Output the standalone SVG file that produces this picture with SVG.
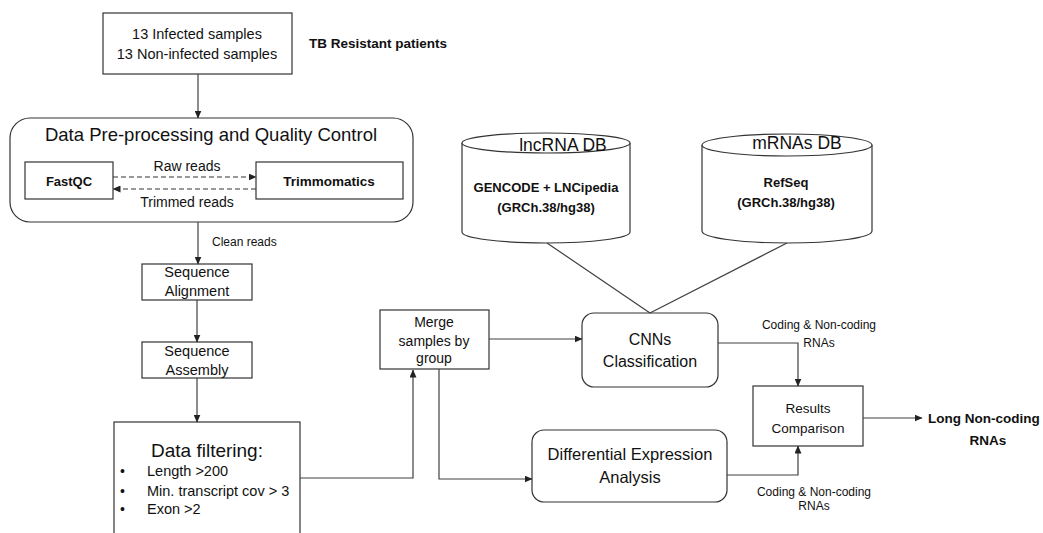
<svg xmlns="http://www.w3.org/2000/svg" width="1043" height="533" viewBox="0 0 1043 533">
<defs>
<marker id="ah" markerUnits="userSpaceOnUse" markerWidth="8" markerHeight="7" refX="7.5" refY="3.5" orient="auto">
<path d="M0,0 L8,3.5 L0,7 z" fill="#222"/>
</marker>
<style>
.box{fill:#fff;stroke:#333;stroke-width:1.2}
.ln{fill:none;stroke:#404040;stroke-width:1.2}
.ar{fill:none;stroke:#404040;stroke-width:1.2;marker-end:url(#ah)}
.da{fill:none;stroke:#333;stroke-width:1.1;stroke-dasharray:5,3;marker-end:url(#ah)}
text{font-family:"Liberation Sans",Arial,sans-serif;fill:#111}
.c{text-anchor:middle}
.b{font-weight:bold}
</style>
</defs>
<rect width="1043" height="533" fill="#fff"/>
<g id="samples">
<rect class="box" x="103" y="13" width="189" height="61"/>
<text class="c" x="197" y="39" font-size="14.5">13 Infected samples</text>
<text class="c" x="197" y="58.5" font-size="14.5">13 Non-infected samples</text>
</g>
<g id="tb-label">
<text class="b" x="309" y="48" font-size="13.5">TB Resistant patients</text>
</g>
<g id="preprocessing">
<rect class="box" x="10" y="118" width="403" height="104" rx="20"/>
<text class="c" x="211" y="141" font-size="18.5">Data Pre-processing and Quality Control</text>
</g>
<g id="fastqc">
<rect class="box" x="25" y="162" width="88" height="37"/>
<text class="c b" x="69" y="185.5" font-size="13">FastQC</text>
</g>
<g id="trimmomatics">
<rect class="box" x="256" y="162" width="147" height="37"/>
<text class="c b" x="329" y="185.5" font-size="13.5">Trimmomatics</text>
</g>
<g id="seq-alignment">
<rect class="box" x="142" y="264" width="110" height="36"/>
<text class="c" x="197" y="277" font-size="14.5">Sequence</text>
<text class="c" x="197" y="296" font-size="14.5">Alignment</text>
</g>
<g id="seq-assembly">
<rect class="box" x="142" y="342" width="110" height="36"/>
<text class="c" x="197" y="355.5" font-size="14.5">Sequence</text>
<text class="c" x="197" y="374.5" font-size="14.5">Assembly</text>
</g>
<g id="data-filtering">
<rect class="box" x="114" y="422" width="186" height="125"/>
<text class="c" x="207" y="457" font-size="19">Data filtering:</text>
<text x="120" y="476" font-size="14">•</text>
<text x="120" y="496" font-size="14">•</text>
<text x="120" y="514" font-size="14">•</text>
<text x="147" y="476" font-size="14.5">Length &gt;200</text>
<text x="147" y="496" font-size="14.5">Min. transcript cov &gt; 3</text>
<text x="147" y="514" font-size="14.5">Exon &gt;2</text>
</g>
<g id="merge">
<rect class="box" x="380" y="310" width="109" height="59"/>
<text class="c" x="434" y="327" font-size="14">Merge</text>
<text class="c" x="434" y="346" font-size="14">samples by</text>
<text class="c" x="434" y="363" font-size="14">group</text>
</g>
<g id="lncrna-db">
<path class="box" d="M462,143 L462,232 A84,11 0 0 0 630,232 L630,143"/>
<ellipse class="box" cx="546" cy="143" rx="84" ry="10"/>
<text class="c" x="563" y="151" font-size="17.5">lncRNA DB</text>
<text class="c b" x="546" y="192" font-size="13">GENCODE + LNCipedia</text>
<text class="c b" x="546" y="212" font-size="13">(GRCh.38/hg38)</text>
</g>
<g id="mrnas-db">
<path class="box" d="M702,145 L702,231 A85,12 0 0 0 872,231 L872,145"/>
<ellipse class="box" cx="787" cy="145" rx="85" ry="11"/>
<text class="c" x="797" y="149" font-size="17.5">mRNAs DB</text>
<text class="c b" x="786" y="187" font-size="13">RefSeq</text>
<text class="c b" x="786" y="207" font-size="13">(GRCh.38/hg38)</text>
</g>
<g id="cnns">
<rect class="box" x="582" y="313" width="136" height="74" rx="12"/>
<text class="c" x="650" y="345" font-size="16">CNNs</text>
<text class="c" x="650" y="367" font-size="16">Classification</text>
</g>
<g id="dea">
<rect class="box" x="532" y="430" width="195" height="72" rx="12"/>
<text class="c" x="630" y="460" font-size="16.5">Differential Expression</text>
<text class="c" x="630" y="483" font-size="16.5">Analysis</text>
</g>
<g id="results">
<rect class="box" x="753" y="386" width="110" height="60"/>
<text class="c" x="808" y="413" font-size="13.5">Results</text>
<text class="c" x="808" y="433" font-size="13.5">Comparison</text>
</g>
<g id="output">
<text class="b" x="928" y="423" font-size="13.5">Long Non-coding</text>
<text class="c b" x="988" y="445" font-size="13.5">RNAs</text>
</g>
<g id="connectors">
<line class="ar" x1="198" y1="74" x2="198" y2="118"/>
<line class="da" x1="113" y1="177" x2="256" y2="177"/>
<line class="da" x1="256" y1="189" x2="113" y2="189"/>
<line class="ar" x1="198" y1="222" x2="198" y2="264"/>
<line class="ar" x1="197" y1="300" x2="197" y2="342"/>
<line class="ar" x1="197" y1="378" x2="197" y2="422"/>
<polyline class="ar" points="300,478 413,478 413,370"/>
<polyline class="ar" points="439,369 439,479 532,479"/>
<line class="ar" x1="489" y1="339" x2="582" y2="339"/>
<line class="ln" x1="547" y1="243" x2="650" y2="313"/>
<line class="ln" x1="787" y1="243" x2="650" y2="313"/>
<polyline class="ar" points="718,343 798,343 798,386"/>
<polyline class="ar" points="727,475 798,475 798,446"/>
<line class="ar" x1="863" y1="418" x2="922" y2="418"/>
<text x="212" y="246" font-size="12">Clean reads</text>
<text class="c" x="187" y="170.5" font-size="14">Raw reads</text>
<text class="c" x="187" y="206.5" font-size="14">Trimmed reads</text>
<text class="c" x="819" y="329" font-size="12">Coding &amp; Non-coding</text>
<text class="c" x="819" y="347" font-size="12">RNAs</text>
<text class="c" x="814" y="496" font-size="12">Coding &amp; Non-coding</text>
<text class="c" x="814" y="510" font-size="12">RNAs</text>
</g>
</svg>
